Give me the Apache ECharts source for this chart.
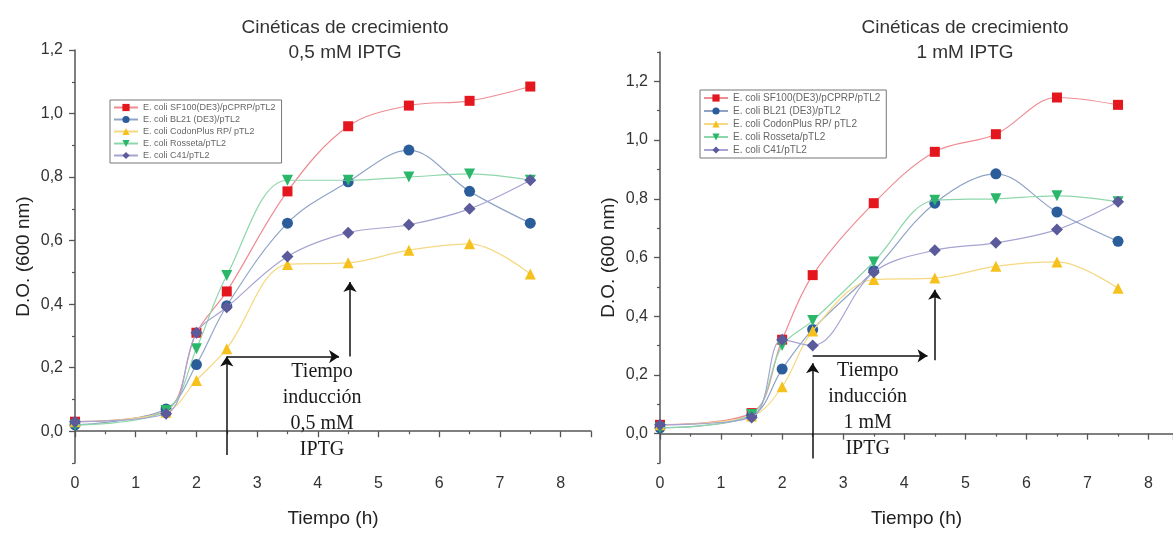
<!DOCTYPE html>
<html>
<head>
<meta charset="utf-8">
<script src="https://cdn.jsdelivr.net/npm/echarts@6/dist/echarts.min.js"></script>
<style>
  html, body { margin: 0; padding: 0; background: #fff; }
  #chart { width: 1173px; height: 533px; }
</style>
</head>
<body>
<div id="chart"></div>
<script>
// sample times (h)
var times = [0, 1.5, 2, 2.5, 3.5, 4.5, 5.5, 6.5, 7.5];
var strains = ['E. coli SF100(DE3)/pCPRP/pTL2', 'E. coli BL21 (DE3)/pTL2', 'E. coli CodonPlus RP/ pTL2', 'E. coli Rosseta/pTL2', 'E. coli C41/pTL2'];

// D.O. 600 nm, 0,5 mM IPTG
var sf100_05 = [0.03, 0.065, 0.31, 0.44, 0.755, 0.96, 1.025, 1.04, 1.085];
var bl21_05 = [0.02, 0.07, 0.21, 0.395, 0.655, 0.785, 0.885, 0.755, 0.655];
var codon_05 = [0.03, 0.06, 0.16, 0.26, 0.525, 0.53, 0.57, 0.59, 0.495];
var rosseta_05 = [0.02, 0.065, 0.26, 0.49, 0.79, 0.79, 0.80, 0.81, 0.79];
var c41_05 = [0.03, 0.055, 0.31, 0.39, 0.55, 0.625, 0.65, 0.70, 0.79];

// D.O. 600 nm, 1 mM IPTG
var sf100_1 = [0.03, 0.07, 0.32, 0.54, 0.785, 0.96, 1.02, 1.145, 1.12];
var bl21_1 = [0.02, 0.06, 0.22, 0.355, 0.555, 0.785, 0.885, 0.755, 0.655];
var codon_1 = [0.03, 0.06, 0.16, 0.35, 0.525, 0.53, 0.57, 0.585, 0.495];
var rosseta_1 = [0.02, 0.065, 0.30, 0.385, 0.585, 0.795, 0.80, 0.81, 0.79];
var c41_1 = [0.03, 0.055, 0.32, 0.30, 0.55, 0.625, 0.65, 0.695, 0.79];

var yTicks = [0, 0.2, 0.4, 0.6, 0.8, 1.0, 1.2];
var yMinor = [-0.1, 0.1, 0.3, 0.5, 0.7, 0.9, 1.1, 1.3];

// induction arrows [from, to] and note text
var arrows05 = [[[2.5, -0.075], [2.5, 0.235]], [[2.5, 0.235], [4.35, 0.235]], [[4.53, 0.235], [4.53, 0.47]]];
var arrows1 = [[[2.5, -0.085], [2.5, 0.24]], [[2.5, 0.265], [4.38, 0.265]], [[4.5, 0.25], [4.5, 0.49]]];
var note05 = ['Tiempo', 'inducción', '0,5 mM', 'IPTG'];
var note1 = ['Tiempo', 'inducción', '1 mM', 'IPTG'];

var markerColors = ['#e3171d', '#2c5d9b', '#f6c11d', '#2bb76a', '#5b5a9a'];
var lineColors = ['#ee8c92', '#90a4c6', '#f5d982', '#8ed7aa', '#a6a4d2'];
var symbols = ['rect', 'circle', 'triangle', 'triangle', 'diamond'];
var rotates = [0, 0, 0, 180, 0];
var sizes = [10, 11, 11, 11, 12];

var chart = echarts.init(document.getElementById('chart'));

function fmt(v) {
  return v.toFixed(1).replace('.', ',');
}

function pairs(vals) {
  return times.map(function (t, i) { return [t, vals[i]]; });
}

function makeSeries(sets, gi, arrows) {
  return sets.map(function (vals, k) {
    var s = {
      name: strains[k],
      type: 'line',
      xAxisIndex: gi,
      yAxisIndex: gi,
      smooth: 0.35,
      data: pairs(vals),
      symbol: symbols[k],
      symbolRotate: rotates[k],
      symbolSize: sizes[k],
      itemStyle: { color: markerColors[k] },
      lineStyle: { color: lineColors[k], width: 1.2 },
      z: 3 + k
    };
    if (k === 0) {
      s.markLine = {
        silent: true,
        animation: false,
        symbol: ['none', 'arrow'],
        symbolSize: 10,
        label: { show: false },
        lineStyle: { color: '#111', width: 1.5, type: 'solid' },
        itemStyle: { color: '#111' },
        data: arrows.map(function (a) {
          return [{ coord: a[0] }, { coord: a[1] }];
        })
      };
    }
    return s;
  });
}

function xAx(gi, max) {
  return {
    type: 'value', gridIndex: gi, min: 0, max: max, interval: 1,
    axisLine: { lineStyle: { color: '#555', width: 1.5 } },
    axisTick: { length: 6, lineStyle: { color: '#555', width: 1.3 } },
    minorTick: { show: true, splitNumber: 2, length: 3, lineStyle: { color: '#555', width: 1.2 } },
    axisLabel: { color: '#333', fontSize: 16, margin: 13, fontFamily: 'Liberation Sans',
      showMaxLabel: false },
    splitLine: { show: false },
    name: 'Tiempo (h)', nameLocation: 'middle', nameGap: 46,
    nameTextStyle: { color: '#222', fontSize: 19, fontFamily: 'Liberation Sans' }
  };
}

function yAx(gi, max) {
  return {
    type: 'value', gridIndex: gi, min: -0.1, max: max, position: 'left',
    axisLine: { show: true, lineStyle: { color: '#555', width: 1.5 } },
    axisTick: { show: true, length: 6, customValues: yTicks, lineStyle: { color: '#555', width: 1.3 } },
    axisLabel: { color: '#333', fontSize: 16, margin: 12, fontFamily: 'Liberation Sans',
      customValues: yTicks, formatter: fmt },
    splitLine: { show: false },
    name: 'D.O. (600 nm)', nameLocation: 'middle', nameGap: 42,
    nameTextStyle: { color: '#222', fontSize: 19, fontFamily: 'Liberation Sans' }
  };
}

// second y axis only for the short ticks between labels
function yMinorAx(gi, max) {
  return {
    type: 'value', gridIndex: gi, min: -0.1, max: max, position: 'left', offset: 0,
    axisLine: { show: false },
    axisTick: { show: true, length: 3, customValues: yMinor, lineStyle: { color: '#555', width: 1.2 } },
    axisLabel: { show: false },
    splitLine: { show: false }
  };
}

function legend(left, top, fs) {
  return {
    data: strains, orient: 'vertical', left: left, top: top,
    itemWidth: 24, itemHeight: 9, itemGap: 3,
    padding: [3, 6, 3, 3],
    borderColor: '#777', borderWidth: 1,
    textStyle: { color: '#666', fontSize: fs, fontFamily: 'Liberation Sans' }
  };
}

var option = {
  animation: false,
  title: [
    { text: 'Cinéticas de crecimiento\n0,5 mM IPTG', left: 340, top: 10, textAlign: 'center',
      textStyle: { color: '#333', fontSize: 19, fontWeight: 'normal', fontFamily: 'Liberation Sans', lineHeight: 25 } },
    { text: 'Cinéticas de crecimiento\n1 mM IPTG', left: 960, top: 10, textAlign: 'center',
      textStyle: { color: '#333', fontSize: 19, fontWeight: 'normal', fontFamily: 'Liberation Sans', lineHeight: 25 } }
  ],
  legend: [legend(110, 100, 9), legend(700, 90, 10)],
  grid: [
    { left: 75, top: 50, width: 516, height: 416 },
    { left: 660, top: 52, width: 513, height: 415 }
  ],
  xAxis: [xAx(0, 8.5), xAx(1, 8.4)],
  yAxis: [yAx(0, 1.2), yAx(1, 1.3), yMinorAx(0, 1.2), yMinorAx(1, 1.3)],
  series: makeSeries([sf100_05, bl21_05, codon_05, rosseta_05, c41_05], 0, arrows05)
    .concat(makeSeries([sf100_1, bl21_1, codon_1, rosseta_1, c41_1], 1, arrows1))
};
chart.setOption(option);

// induction note text, placed in data units
function note(gi, lines, x, y) {
  var p = chart.convertToPixel({ gridIndex: gi }, [x, y]);
  return {
    type: 'text', x: p[0], y: p[1], z: 20,
    style: {
      text: lines.join('\n'), fill: '#1a1a1a', fontSize: 20, lineHeight: 26,
      fontFamily: 'Liberation Serif', align: 'center', verticalAlign: 'middle'
    }
  };
}
chart.setOption({ graphic: [note(0, note05, 4.07, 0.064), note(1, note1, 3.4, 0.08)] });
</script>
</body>
</html>
